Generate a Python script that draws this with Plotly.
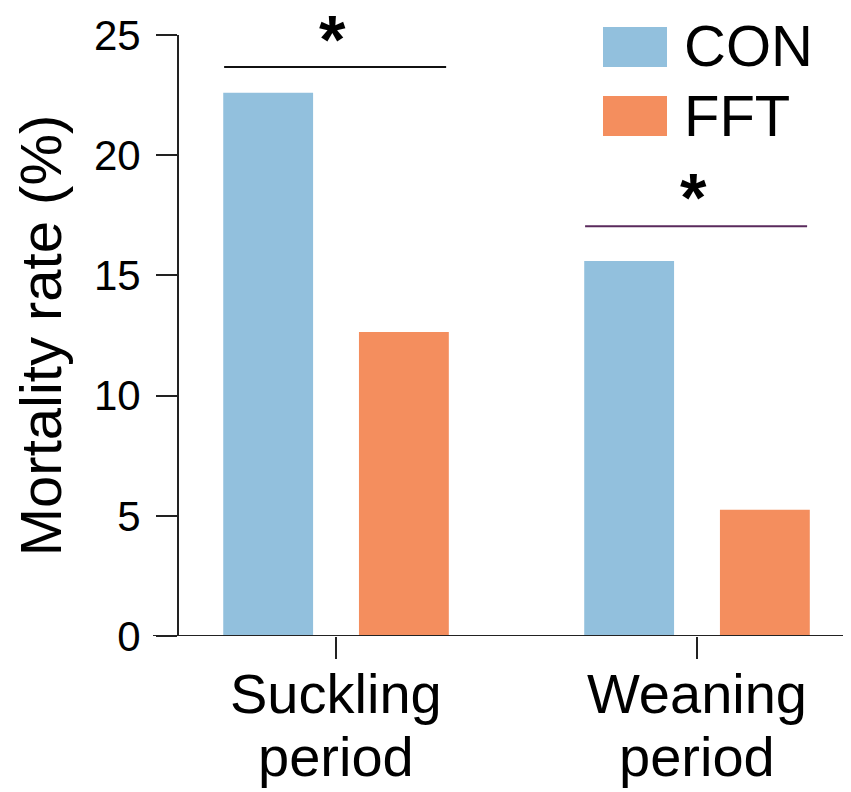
import plotly.graph_objects as go

# ---- data ----
categories = ["Suckling period", "Weaning period"]
cat_line1 = ["Suckling", "Weaning"]
cat_line2 = ["period", "period"]
con_values = [22.6, 15.6]
fft_values = [12.65, 5.25]
y_tick_values = [0, 5, 10, 15, 20, 25]
series_names = ["CON", "FFT"]
significance_marks = ["*", "*"]
significance_heights = [23.67, 17.04]

CON_COLOR = "#92C0DD"
FFT_COLOR = "#F48E5E"
FONT = "Liberation Sans, Arial, sans-serif"

# page body has an 8px margin: draw the figure 8px smaller and compensate
OFF = 8
W, H = 851 - OFF, 792 - OFF
ML, MR, MT, MB = 179 - OFF, 0, 35 - OFF, 156
PW, PH = W - ML - MR, H - MT - MB


def px_x(px):
    return (px - OFF - ML) / PW


def px_y(py):
    return (H - MB - (py - OFF)) / PH


fig = go.Figure()
fig.add_trace(go.Bar(x=categories, y=con_values, name=series_names[0],
                     marker=dict(color=CON_COLOR, line=dict(width=0)), showlegend=False))
fig.add_trace(go.Bar(x=categories, y=fft_values, name=series_names[1],
                     marker=dict(color=FFT_COLOR, line=dict(width=0)), showlegend=False))

shapes = []
annotations = []

# x-axis baseline extending left of the y-axis
shapes.append(dict(type="line", xref="paper", yref="y", x0=px_x(153), x1=1, y0=0, y1=0,
                   line=dict(color="#222222", width=2)))

# significance bars
sig_colors = ["#111111", "#5A2A5C"]
star_py = [39, 196.5]
for i, (mark, h) in enumerate(zip(significance_marks, significance_heights)):
    shapes.append(dict(type="line", xref="x", yref="y", x0=i - 0.31, x1=i + 0.305,
                       y0=h, y1=h, line=dict(color=sig_colors[i], width=2)))
    annotations.append(dict(x=i - 0.01, y=px_y(star_py[i]), xref="x", yref="paper",
                            text="<b>" + mark + "</b>",
                            showarrow=False, yanchor="middle", xanchor="center",
                            font=dict(family=FONT, size=68, color="#000000")))

# two-line category labels
for i, (t1, t2) in enumerate(zip(cat_line1, cat_line2)):
    annotations.append(dict(x=i, y=px_y(693), xref="x", yref="paper", text=t1,
                            showarrow=False, yanchor="middle", xanchor="center",
                            font=dict(family=FONT, size=56, color="#000000")))
    annotations.append(dict(x=i, y=px_y(756), xref="x", yref="paper", text=t2,
                            showarrow=False, yanchor="middle", xanchor="center",
                            font=dict(family=FONT, size=56, color="#000000")))

# legend
leg = [(series_names[0], CON_COLOR, 27, 67, 46), (series_names[1], FFT_COLOR, 96, 136, 115)]
for name, col, y0, y1, yc in leg:
    shapes.append(dict(type="rect", xref="paper", yref="paper", x0=px_x(603), x1=px_x(667),
                       y0=px_y(y1), y1=px_y(y0), fillcolor=col, line=dict(width=0)))
    annotations.append(dict(x=px_x(682), y=px_y(yc), xref="paper", yref="paper", text=name,
                            showarrow=False, xanchor="left", yanchor="middle",
                            font=dict(family=FONT, size=58, color="#000000")))

fig.update_layout(
    width=W, height=H,
    margin=dict(l=ML, r=MR, t=MT, b=MB, autoexpand=False),
    paper_bgcolor="white", plot_bgcolor="white",
    barmode="group", bargap=0.248, bargroupgap=0.338,
    font=dict(family=FONT, color="#000000"),
    shapes=shapes, annotations=annotations,
    xaxis=dict(type="category", range=[-0.435, 1.4266], tickvals=categories,
               showticklabels=False,
               showline=False, ticks="outside", ticklen=22, tickwidth=2, tickcolor="#222222",
               showgrid=False, zeroline=False),
    yaxis=dict(range=[0, 25], tickvals=y_tick_values, showline=True, linecolor="#222222",
               linewidth=2, ticks="outside", ticklen=21, tickwidth=2, tickcolor="#222222",
               tickfont=dict(family=FONT, size=42, color="#000000"), showgrid=False,
               zeroline=False, ticklabelstandoff=7,
               title=dict(text="Mortality rate (%)", standoff=16,
                          font=dict(family=FONT, size=58, color="#000000"))),
)
fig.update_traces(cliponaxis=False)

fig.write_html("out.html")
